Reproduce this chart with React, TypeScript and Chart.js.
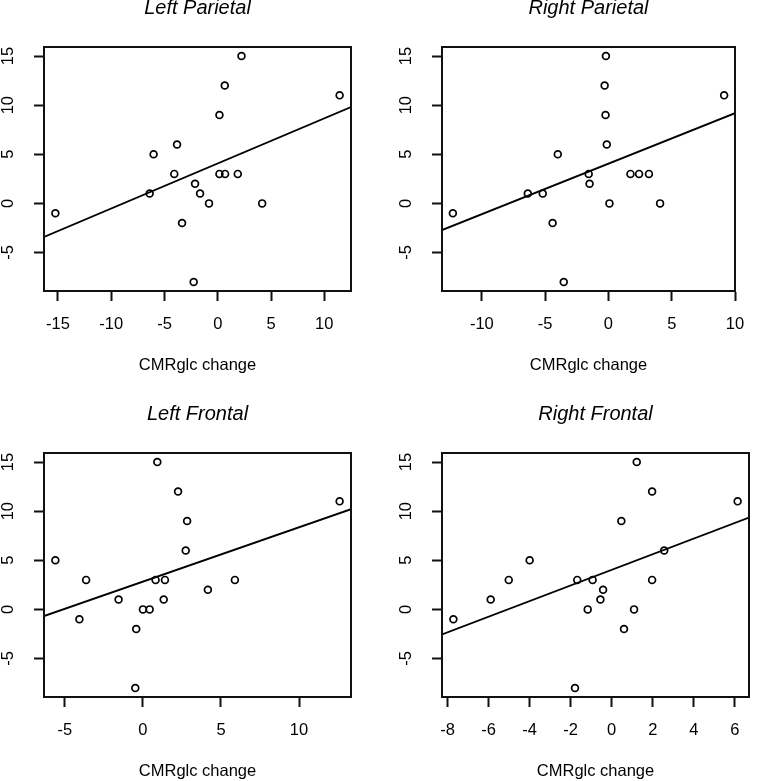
import React, { useEffect, useRef } from "react";
import { Chart, registerables } from "chart.js";

Chart.register(...registerables);

// ---- Data ----
const yValues = [15, 12, 11, 9, 6, 5, 3, 3, 3, 3, 2, 1, 1, 0, 0, -1, -2, -8];

const leftParietalX = [2.23, 0.66, 11.44, 0.16, -3.82, -6.02, -4.08, 0.16, 0.69, 1.88, -2.13, -6.39, -1.66, -0.82, 4.17, -15.24, -3.35, -2.26];
const rightParietalX = [-0.2, -0.3, 9.14, -0.23, -0.13, -4.0, -1.56, 1.74, 2.42, 3.2, -1.49, -6.37, -5.19, 0.08, 4.08, -12.29, -4.41, -3.53];
const leftFrontalX = [0.92, 2.25, 12.6, 2.83, 2.74, -5.61, -3.64, 0.81, 1.41, 5.89, 4.16, -1.56, 1.33, 0.0, 0.43, -4.07, -0.43, -0.49];
const rightFrontalX = [1.22, 1.97, 6.14, 0.47, 2.56, -4.0, -5.02, -1.68, -0.93, 1.97, -0.42, -5.9, -0.55, -1.17, 1.09, -7.72, 0.6, -1.79];

// Fitted line (intercept, slope)
const leftParietalFit = [4.07, 0.459];
const rightParietalFit = [4.04, 0.514];
const leftFrontalFit = [2.83, 0.553];
const rightFrontalFit = [4.03, 0.795];

const leftParietalTicks = [-15, -10, -5, 0, 5, 10];
const rightParietalTicks = [-10, -5, 0, 5, 10];
const leftFrontalTicks = [-5, 0, 5, 10];
const rightFrontalTicks = [-8, -6, -4, -2, 0, 2, 4, 6];
const yTicks = [-5, 0, 5, 10, 15];

const panelTitles = ["Left Parietal", "Right Parietal", "Left Frontal", "Right Frontal"];
const xAxisTitle = "CMRglc change";

const FONT = "'Liberation Sans', Arial, Helvetica, sans-serif";

function rRange(vals: number[]): [number, number] {
  const lo = Math.min(...vals);
  const hi = Math.max(...vals);
  const d = (hi - lo) * 0.04;
  return [lo - d, hi + d];
}

const boxPlugin = {
  id: "rbox",
  afterDraw(chart: any) {
    const { ctx, chartArea } = chart;
    ctx.save();
    ctx.strokeStyle = "#111";
    ctx.lineWidth = 2;
    ctx.strokeRect(chartArea.left, chartArea.top, chartArea.right - chartArea.left, chartArea.bottom - chartArea.top);
    ctx.restore();
  },
};

type PanelProps = {
  title: string;
  xs: number[];
  fit: number[];
  xTicks: number[];
  left: number;
  top: number;
};

const CW = 379;
const CH = 400;

function Panel({ title, xs, fit, xTicks, left, top }: PanelProps) {
  const ref = useRef<HTMLCanvasElement | null>(null);
  useEffect(() => {
    if (!ref.current) return;
    const [xmin, xmax] = rRange(xs);
    const [ymin, ymax] = rRange(yValues);
    const pts = xs.map((x, i) => ({ x, y: yValues[i] }));
    const line = [
      { x: xmin, y: fit[0] + fit[1] * xmin },
      { x: xmax, y: fit[0] + fit[1] * xmax },
    ];
    const chart = new Chart(ref.current, {
      type: "scatter",
      data: {
        datasets: [
          {
            type: "scatter",
            data: pts,
            pointStyle: "circle",
            pointRadius: 3.4,
            pointHoverRadius: 3.4,
            pointBorderWidth: 1.7,
            borderColor: "#000",
            backgroundColor: "rgba(0,0,0,0)",
          } as any,
          {
            type: "line",
            data: line,
            borderColor: "#000",
            borderWidth: 1.9,
            pointRadius: 0,
            fill: false,
            tension: 0,
          } as any,
        ],
      },
      plugins: [boxPlugin],
      options: {
        animation: false,
        responsive: false,
        events: [],
        layout: {
          autoPadding: false,
          padding: { left: 0, right: CW - 370, top: 14.6, bottom: 8.4 },
        } as any,
        plugins: {
          legend: { display: false },
          tooltip: { enabled: false },
          title: {
            display: true,
            text: title,
            fullSize: false,
            color: "#000",
            font: { family: FONT, size: 20, style: "italic", weight: "normal", lineHeight: 1 },
            padding: { top: 0, bottom: 28.4 },
          } as any,
        },
        scales: {
          x: {
            type: "linear",
            position: "bottom",
            min: xmin,
            max: xmax,
            afterBuildTicks: (scale: any) => {
              scale.ticks = xTicks.map((v) => ({ value: v }));
            },
            afterFit: (scale: any) => {
              scale.height = 84.6;
            },
            grid: {
              drawOnChartArea: false,
              drawTicks: true,
              tickLength: 10,
              tickWidth: 2,
              tickColor: "#111",
              color: "#111",
            },
            border: { display: true, color: "#111", width: 2 },
            ticks: {
              color: "#000",
              padding: 13.8,
              font: { family: FONT, size: 16.5 },
              maxRotation: 0,
              minRotation: 0,
              autoSkip: false,
            },
            title: {
              display: true,
              text: xAxisTitle,
              color: "#000",
              font: { family: FONT, size: 16.5 },
              padding: { top: 0, bottom: 0 },
            },
          },
          y: {
            type: "linear",
            position: "left",
            min: ymin,
            max: ymax,
            afterBuildTicks: (scale: any) => {
              scale.ticks = yTicks.map((v) => ({ value: v }));
            },
            afterFit: (scale: any) => {
              scale.width = 63;
            },
            grid: {
              drawOnChartArea: false,
              drawTicks: true,
              tickLength: 10,
              tickWidth: 2,
              tickColor: "#111",
              color: "#111",
            },
            border: { display: true, color: "#111", width: 2 },
            ticks: {
              color: "#000",
              padding: 16.8,
              font: { family: FONT, size: 16.5 },
              minRotation: 90,
              maxRotation: 90,
              crossAlign: "center",
              autoSkip: false,
            },
          },
        },
      } as any,
    });
    return () => chart.destroy();
  }, [title, xs, fit, xTicks]);

  return (
    <canvas
      ref={ref}
      width={CW}
      height={CH}
      style={{ position: "absolute", left, top, width: CW, height: CH }}
    />
  );
}

export default function App() {
  return (
    <div
      style={{
        position: "absolute",
        left: 0,
        top: 0,
        width: 758,
        height: 781,
        overflow: "hidden",
        background: "#fff",
      }}
    >
      <Panel title={panelTitles[0]} xs={leftParietalX} fit={leftParietalFit} xTicks={leftParietalTicks} left={-19} top={-16} />
      <Panel title={panelTitles[1]} xs={rightParietalX} fit={rightParietalFit} xTicks={rightParietalTicks} left={379} top={-16} />
      <Panel title={panelTitles[2]} xs={leftFrontalX} fit={leftFrontalFit} xTicks={leftFrontalTicks} left={-19} top={390} />
      <Panel title={panelTitles[3]} xs={rightFrontalX} fit={rightFrontalFit} xTicks={rightFrontalTicks} left={379} top={390} />
    </div>
  );
}
